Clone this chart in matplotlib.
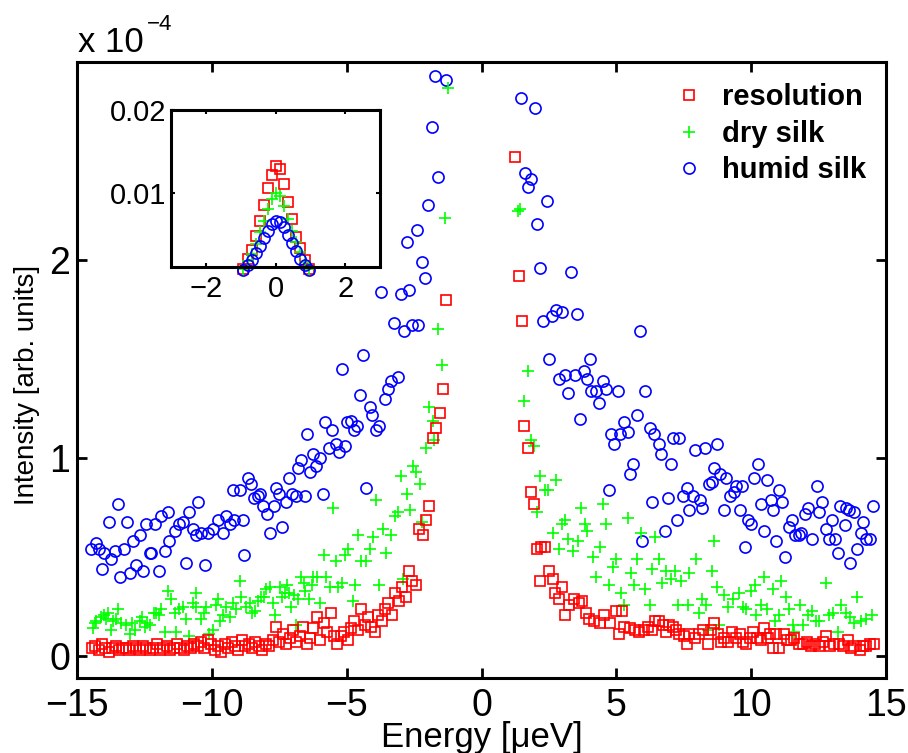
import numpy as np
import matplotlib
matplotlib.use('Agg')
import matplotlib.pyplot as plt
from matplotlib.lines import Line2D

plt.rcParams['font.family'] = ['Liberation Sans', 'DejaVu Sans']

#------------------------- data (intensity in units of 1e-4) -------------------------
# resolution, negative energies: regular energy grid
res_left_y = [0.04, 0.05, 0.03, 0.06, 0.04, 0.02, 0.04, 0.05, 0.03, 0.04,
              0.04, 0.03, 0.05, 0.04, 0.03, 0.05, 0.04, 0.03, 0.04, 0.06,
              0.03, 0.04, 0.05, 0.03, 0.04, 0.06, 0.04, 0.03, 0.05, 0.04,
              0.06, 0.05, 0.07, 0.04, 0.08, 0.06, 0.03,
              0.05, 0.02, 0.06, 0.04, 0.07, 0.05, 0.03, 0.08, 0.05, 0.06,
              0.04, 0.07, 0.05, 0.03, 0.06, 0.05,
              0.08, 0.15, 0.07, 0.11, 0.06, 0.09, 0.13, 0.07, 0.10, 0.15, 0.06,
              0.09, 0.14, 0.20, 0.08, 0.17, 0.12, 0.22, 0.10, 0.06,
              0.10, 0.12, 0.08, 0.14,
              0.18, 0.13, 0.24, 0.16, 0.20, 0.15, 0.12, 0.21, 0.18,
              0.24, 0.27, 0.21, 0.32, 0.28, 0.35,
              0.30, 0.43, 0.38, 0.36,
              0.64, 0.61, 0.69, 0.76, 1.10, 1.15, 1.23, 1.35, 1.80]
res_left_range = (-14.45, -1.30)

res_right_x = [1.25, 1.39, 1.50, 1.59, 1.72, 1.82, 1.94, 2.05, 2.18, 2.21,
               2.37, 2.52, 2.64, 2.74, 2.87, 3.00, 3.11, 3.26, 3.42, 3.61,
               3.73, 3.86, 4.00, 4.19, 4.38, 4.56, 4.77, 4.97, 5.09, 5.22,
               5.27, 5.49, 5.68, 5.85, 6.01, 6.17, 6.33, 6.45, 6.60, 6.73,
               6.85, 6.97, 7.10, 7.22, 7.34, 7.50, 7.61, 7.71, 7.90, 8.08,
               8.23, 8.39, 8.52, 8.64, 8.76, 8.89, 9.01, 9.14, 9.30, 9.42,
               9.57, 9.69, 9.81, 9.96, 10.06, 10.21, 10.37, 10.49, 10.62, 10.71,
               10.80, 10.93, 11.05, 11.20, 11.32, 11.48, 11.60, 11.77, 11.91, 12.06,
               12.22, 12.38, 12.51, 12.66, 12.78, 12.93, 13.09, 13.25, 13.40, 13.58,
               13.71, 13.83, 14.02, 14.14, 14.26, 14.41, 14.57]
res_right_y = [2.52, 1.92, 1.69, 1.16, 1.05, 0.83, 0.77, 0.54, 0.38, 0.55,
               0.55, 0.43, 0.39, 0.32, 0.29, 0.35, 0.21, 0.26, 0.29, 0.27,
               0.28, 0.22, 0.19, 0.18, 0.17, 0.21, 0.17, 0.23, 0.11, 0.23,
               0.15, 0.14, 0.13, 0.12, 0.13, 0.15, 0.13, 0.18, 0.18, 0.16,
               0.12, 0.16, 0.15, 0.13, 0.11, 0.10, 0.06, 0.11, 0.09, 0.11,
               0.13, 0.06, 0.13, 0.17, 0.11, 0.07, 0.09, 0.07, 0.12, 0.09,
               0.11, 0.07, 0.06, 0.09, 0.12, 0.09, 0.08, 0.14, 0.09, 0.11,
               0.04, 0.11, 0.04, 0.11, 0.08, 0.08, 0.09, 0.06, 0.06, 0.07,
               0.05, 0.06, 0.05, 0.07, 0.10, 0.05, 0.06, 0.06, 0.05, 0.08,
               0.04, 0.05, 0.03, 0.05, 0.05, 0.06, 0.06]

dry_x = [-14.41, -14.35, -14.28, -14.10, -14.00, -13.91, -13.85, -13.73, -13.66, -13.55,
         -13.48, -13.36, -13.17, -13.05, -12.95, -12.86, -12.68, -12.60, -12.49, -12.40,
         -12.31, -12.15, -12.06, -11.96, -11.90, -11.75, -11.63, -11.50, -11.38, -11.32,
         -11.20, -11.07, -10.95, -10.83, -10.70, -10.60, -10.57, -10.39, -10.30, -10.21,
         -10.09, -9.96, -9.85, -9.77, -9.70, -9.59, -9.47, -9.34, -9.22, -9.10,
         -8.97, -8.91, -8.73, -8.60, -8.50, -8.40, -8.29, -8.17, -8.05, -7.98,
         -7.85, -7.75, -7.67, -7.48, -7.40, -7.30, -7.20, -7.14, -7.05, -6.95,
         -6.89, -6.81, -6.69, -6.60, -6.56, -6.40, -6.30, -6.25, -6.10, -6.00,
         -5.85, -5.75, -5.63, -5.51, -5.38, -5.32, -5.16, -5.07, -4.95, -4.78,
         -4.69, -4.57, -4.45, -4.28, -4.15, -4.03, -3.93, -3.80, -3.66, -3.53,
         -3.34, -3.22, -3.10, -2.97, -2.91, -2.76, -2.66, -2.54, -2.42, -2.29,
         -2.19, -2.07, -1.94, -1.79, -1.75, -1.63, -1.48, -1.37, -1.26,
         1.36, 1.42, 1.59, 1.72, 1.84, 1.96, 2.05, 2.18, 2.34, 2.46,
         2.64, 2.77, 2.87, 3.00, 3.11, 3.20, 3.39, 3.57, 3.70, 3.82,
         3.91, 4.15, 4.25, 4.38, 4.50, 4.60, 4.72, 4.87, 4.97, 5.18,
         5.30, 5.43, 5.55, 5.67, 5.76, 5.92, 6.08, 6.23, 6.33, 6.45,
         6.58, 6.70, 6.85, 7.03, 7.16, 7.30, 7.40, 7.65, 7.71, 7.96,
         8.06, 8.18, 8.31, 8.39, 8.54, 8.64, 8.73, 8.80, 9.01, 9.13,
         9.32, 9.54, 9.69, 9.81, 10.00, 10.16, 10.18, 10.37, 10.49, 10.58,
         10.80, 10.87, 11.03, 11.11, 11.30, 11.42, 11.54, 11.60, 11.81, 11.91,
         12.10, 12.26, 12.41, 12.53, 12.78, 12.88, 13.03, 13.22, 13.34, 13.50,
         13.65, 13.83, 13.93, 14.08, 14.26, 14.48]
dry_y = [0.14, 0.17, 0.18, 0.20, 0.21, 0.19, 0.22, 0.13, 0.18, 0.19,
         0.24, 0.17, 0.16, 0.11, 0.17, 0.13, 0.18, 0.20, 0.15, 0.17,
         0.16, 0.22, 0.22, 0.21, 0.24, 0.12, 0.33, 0.29, 0.22, 0.12,
         0.24, 0.25, 0.19, 0.10, 0.27, 0.32, 0.25, 0.19, 0.22, 0.25,
         0.11, 0.13, 0.26, 0.29, 0.18, 0.21, 0.25, 0.20, 0.27, 0.24,
         0.38, 0.30, 0.25, 0.27, 0.22, 0.23, 0.28, 0.30, 0.30, 0.34,
         0.35, 0.27, 0.21, 0.35, 0.30, 0.32, 0.36, 0.32, 0.25, 0.31,
         0.16, 0.29, 0.40, 0.37, 0.33, 0.29, 0.36, 0.40, 0.40, 0.27,
         0.51, 0.40, 0.35, 0.75, 0.48, 0.35, 0.37, 0.51, 0.54, 0.28,
         0.36, 0.61, 0.48, 0.48, 0.54, 0.60, 0.79, 0.36, 0.64, 0.52,
         0.61, 0.71, 0.73, 0.91, 0.39, 0.82, 0.74, 0.96, 0.93, 0.87,
         0.68, 1.05, 1.26, 1.19, 1.09, 1.65, 1.47, 2.21, 2.87,
         2.25, 2.26, 1.29, 1.44, 1.09, 1.06, 0.73, 0.91, 0.84, 0.84,
         0.62, 0.89, 0.54, 0.67, 0.69, 0.59, 0.53, 0.58, 0.75, 0.67,
         0.63, 0.50, 0.40, 0.55, 0.77, 0.67, 0.36, 0.45, 0.49, 0.32,
         0.26, 0.70, 0.42, 0.36, 0.49, 0.62, 0.34, 0.26, 0.44, 0.60,
         0.49, 0.37, 0.43, 0.39, 0.43, 0.26, 0.38, 0.26, 0.42, 0.49,
         0.22, 0.29, 0.26, 0.13, 0.43, 0.58, 0.35, 0.16, 0.31, 0.25,
         0.29, 0.32, 0.25, 0.24, 0.33, 0.36, 0.21, 0.26, 0.40, 0.24,
         0.34, 0.18, 0.21, 0.38, 0.30, 0.24, 0.16, 0.12, 0.26, 0.16,
         0.21, 0.23, 0.18, 0.18, 0.37, 0.21, 0.22, 0.12, 0.26, 0.22,
         0.20, 0.17, 0.30, 0.18, 0.19, 0.21]

humid_x = [-14.47, -14.29, -14.17, -14.07, -14.00, -13.82, -13.73, -13.60, -13.48, -13.39,
           -13.24, -13.15, -13.05, -12.93, -12.80, -12.68, -12.55, -12.43, -12.31, -12.25,
           -12.09, -11.96, -11.88, -11.75, -11.63, -11.57, -11.35, -11.20, -11.07, -10.95,
           -10.83, -10.70, -10.60, -10.52, -10.39, -10.27, -10.15, -9.96, -9.77, -9.59,
           -9.47, -9.34, -9.22, -9.16, -8.97, -8.85, -8.79, -8.67, -8.54, -8.42,
           -8.29, -8.23, -8.10, -7.94, -7.85, -7.71, -7.61, -7.51, -7.39, -7.24,
           -7.14, -7.02, -6.87, -6.81, -6.69, -6.56, -6.47, -6.35, -6.23, -6.13,
           -5.98, -5.88, -5.79, -5.66, -5.54, -5.41, -5.29, -5.18, -5.05, -4.99,
           -4.83, -4.71, -4.62, -4.50, -4.41, -4.28, -4.15, -4.05, -3.93, -3.80,
           -3.71, -3.59, -3.47, -3.34, -3.26, -3.10, -3.00, -2.89, -2.78, -2.67,
           -2.56, -2.41, -2.34, -2.19, -2.08, -2.00, -1.85, -1.74, -1.63, -1.30,
           1.47, 1.62, 1.74, 1.84, 1.97, 2.06, 2.17, 2.27, 2.42, 2.52,
           2.62, 2.77, 2.87, 2.99, 3.11, 3.21, 3.33, 3.45, 3.55, 3.67,
           3.80, 3.91, 4.04, 4.07, 4.23, 4.35, 4.50, 4.60, 4.72, 4.81,
           4.93, 5.06, 5.12, 5.30, 5.43, 5.52, 5.61, 5.76, 5.86, 5.96,
           6.08, 6.23, 6.33, 6.41, 6.58, 6.66, 6.79, 6.91, 7.01, 7.10,
           7.26, 7.34, 7.46, 7.61, 7.71, 7.86, 7.93, 8.11, 8.18, 8.29,
           8.43, 8.54, 8.64, 8.73, 8.85, 8.99, 9.07, 9.22, 9.36, 9.42,
           9.57, 9.67, 9.78, 9.87, 10.00, 10.12, 10.25, 10.37, 10.47, 10.58,
           10.72, 10.80, 10.93, 11.05, 11.15, 11.27, 11.42, 11.52, 11.64, 11.77,
           11.85, 11.98, 12.10, 12.26, 12.44, 12.53, 12.63, 12.78, 12.88, 13.00,
           13.12, 13.22, 13.31, 13.48, 13.50, 13.64, 13.67, 13.83, 13.93, 14.08,
           14.16, 14.26, 14.42, 14.51]
humid_y = [0.54, 0.57, 0.54, 0.44, 0.52, 0.68, 0.49, 0.53, 0.77, 0.40,
           0.54, 0.68, 0.42, 0.58, 0.46, 0.61, 0.43, 0.67, 0.52, 0.52,
           0.67, 0.43, 0.71, 0.53, 0.73, 0.58, 0.63, 0.67, 0.68, 0.47,
           0.73, 0.64, 0.61, 0.78, 0.62, 0.46, 0.62, 0.64, 0.69, 0.62,
           0.71, 0.67, 0.84, 0.69, 0.84, 0.69, 0.51, 0.90, 0.87, 0.80,
           0.81, 0.82, 0.76, 0.72, 0.62, 0.76, 0.85, 0.82, 0.65, 0.78,
           0.90, 0.82, 0.81, 0.95, 0.99, 0.81, 1.12, 0.93, 1.02, 0.96,
           1.00, 0.82, 1.18, 1.05, 1.14, 1.07, 1.03, 1.45, 1.06, 1.18,
           1.19, 1.14, 1.16, 1.32, 1.52, 0.85, 1.26, 1.22, 1.14, 1.16,
           1.84, 1.30, 1.35, 1.39, 1.68, 1.41, 1.83, 1.64, 2.09, 1.85,
           1.67, 2.15, 1.67, 1.99, 1.91, 2.28, 2.67, 2.93, 2.42, 2.91,
           2.82, 2.44, 2.37, 2.41, 2.77, 2.18, 1.96, 1.69, 2.30, 1.50,
           1.72, 1.75, 1.40, 1.74, 1.42, 1.33, 1.94, 1.42, 1.73, 1.20,
           1.44, 1.40, 1.50, 1.34, 1.34, 1.28, 1.39, 1.35, 0.84, 1.12,
           1.07, 1.34, 1.12, 1.18, 1.13, 0.92, 0.97, 1.22, 1.64, 0.58,
           1.34, 1.15, 0.78, 1.12, 1.07, 1.02, 0.63, 0.80, 0.97, 1.10,
           0.69, 1.10, 0.81, 0.85, 0.74, 0.81, 1.04, 0.79, 0.75, 1.05,
           0.87, 0.88, 0.95, 1.07, 0.92, 0.74, 0.90, 0.81, 0.83, 0.86,
           0.74, 0.86, 0.55, 0.69, 0.67, 0.90, 0.97, 0.77, 0.63, 0.89,
           0.79, 0.74, 0.58, 0.84, 0.78, 0.50, 0.65, 0.69, 0.61, 0.61,
           0.62, 0.72, 0.75, 0.59, 0.86, 0.73, 0.78, 0.64, 0.59, 0.69,
           0.59, 0.52, 0.76, 0.66, 0.75, 0.74, 0.47, 0.73, 0.54, 0.62,
           0.68, 0.59, 0.59, 0.76]

# inset: elastic peak around zero energy (absolute intensity)
inset_range = (-0.92, 0.95)
inset_res = [0.0007, 0.0020, 0.0031, 0.0047, 0.0066, 0.0085, 0.0105, 0.0121, 0.0132,
             0.0128, 0.0111, 0.0089, 0.0068, 0.0046, 0.0033, 0.0019, 0.0007]
inset_dry = [0.0008, 0.0017, 0.0026, 0.0038, 0.0052, 0.0066, 0.0080, 0.0092, 0.0099,
             0.0096, 0.0084, 0.0068, 0.0053, 0.0040, 0.0028, 0.0016, 0.0007]
inset_humid = [0.0006, 0.0012, 0.0019, 0.0027, 0.0036, 0.0045, 0.0054, 0.0062, 0.0066,
               0.0065, 0.0058, 0.0049, 0.0039, 0.0029, 0.0020, 0.0012, 0.0006]

labels = ['resolution', 'dry silk', 'humid silk']
#------------------------------------------------------------------------------------

res_left_x = np.linspace(res_left_range[0], res_left_range[1], len(res_left_y))
res_x = np.concatenate([res_left_x, res_right_x])
res_y = np.concatenate([res_left_y, res_right_y])
inset_x = np.linspace(inset_range[0], inset_range[1], len(inset_res))

fig = plt.figure(figsize=(9.08, 7.53), dpi=100)
ax = fig.add_axes([77/908, 1-678/753, 809/908, 616/753])

sq = dict(marker='s', ls='none', mfc='none', mec='r', ms=6.5, mew=1.2)
pl = dict(marker='+', ls='none', color=(0, 1, 0), ms=8, mew=1.2)
ci = dict(marker='o', ls='none', mfc='none', mec='b', ms=8, mew=1.2)

ax.plot(humid_x, humid_y, **ci)
ax.plot(dry_x, dry_y, **pl)
ax.plot(res_x, res_y, **sq)

ax.set_xlim(-15, 15)
ax.set_ylim(-0.11, 3.0)
ax.set_xticks([-15, -10, -5, 0, 5, 10, 15])
ax.set_yticks([0, 1, 2])
ax.tick_params(direction='in', length=7, width=2, labelsize=27, top=True, right=True)
ax.tick_params(axis='x', pad=7)
ax.tick_params(axis='y', pad=5)
for s in ax.spines.values():
    s.set_linewidth(2.2)

ax.set_xlabel('Energy [μeV]', fontsize=25)
ax.xaxis.set_label_coords(0.5, -0.07)
ax.set_ylabel('Intensity [arb. units]', fontsize=20)
ax.yaxis.set_label_coords(-0.046, 0.476)

fig.text(78/908, 1-52/753, 'x 10', fontsize=25, va='baseline')
fig.text(147/908, 1-30/753, '\u22124', fontsize=16, va='baseline')

handles = [Line2D([], [], **sq), Line2D([], [], **pl), Line2D([], [], **ci)]
ax.legend(handles, labels, loc='upper left', bbox_to_anchor=(674/908, 1-83/753),
          bbox_transform=fig.transFigure, frameon=False, borderpad=0, borderaxespad=0,
          numpoints=1, handlelength=1.0, handletextpad=0.66, labelspacing=0.30,
          prop={'weight': 'bold', 'size': 21})

# inset
ax2 = fig.add_axes([171/908, 1-267/753, 209/908, 157/753])
ax2.plot(inset_x, inset_res, clip_on=False, **sq)
ax2.plot(inset_x, inset_dry, clip_on=False, **pl)
ax2.plot(inset_x, inset_humid, clip_on=False, **ci)
ax2.set_xlim(-3, 3)
ax2.set_ylim(0.001, 0.02)
ax2.set_xticks([-2, 0, 2])
ax2.set_yticks([0.01, 0.02])
ax2.set_yticklabels(['0.01', '0.02'])
ax2.tick_params(direction='in', length=3, width=1.5, labelsize=21, top=True, right=True)
ax2.tick_params(axis='x', pad=6)
for s in ax2.spines.values():
    s.set_linewidth(2.2)

fig.savefig('out.png', dpi=100)
